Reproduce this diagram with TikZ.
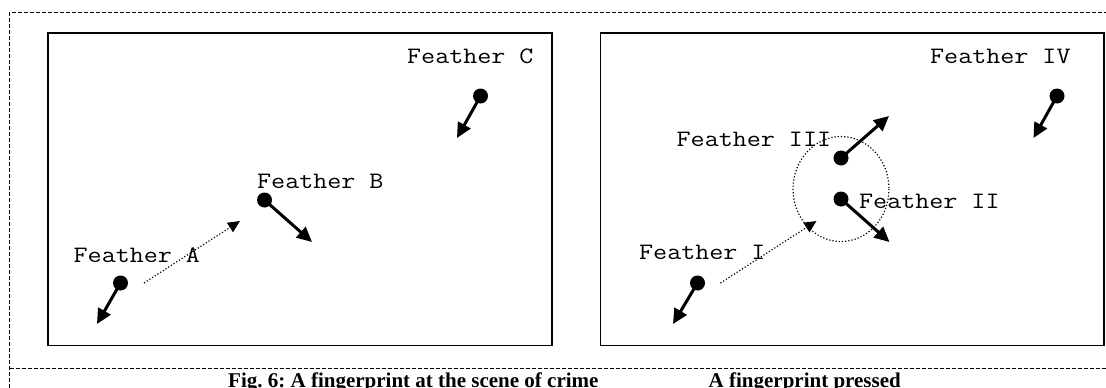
\documentclass[tikz,border=0pt]{standalone}
\usepackage{fontspec}
\setmainfont{Liberation Serif}
\newfontfamily\monofam[FakeStretch=1.16]{Latin Modern Mono}
\usetikzlibrary{arrows.meta}
\begin{document}
\begin{tikzpicture}[x=1pt,y=-1pt,
  frame/.style={line width=0.9pt,dash pattern=on 4pt off 2pt},
  panel/.style={draw,line width=1.8pt},
  dot/.style={circle,fill=black,inner sep=0pt,minimum size=15pt},
  spin/.style={line width=3pt,-{Triangle[length=15pt,width=14pt]}},
  trail/.style={line width=1.2pt,dotted,-{Triangle[length=12pt,width=11pt]}},
  lbl/.style={font=\monofam\fontsize{23.5}{25}\selectfont,anchor=base west,inner sep=0pt},
  figcap/.style={font=\bfseries\frenchspacing\fontsize{21}{23}\selectfont,anchor=base west,inner sep=0pt}]
\useasboundingbox (0,0) rectangle (1106,388);

% outer dashed frame and separator
\draw[frame] (9.6,388) -- (9.6,12) -- (1106,12);
\draw[frame] (9.6,368) -- (1106,368);

% panels
\draw[panel] (48,33) rectangle (552,345.5);
\draw[panel] (600.5,33) rectangle (1104,345.5);

% left panel: feathers A, B, C
\node[lbl] (lc) at (407,63) {Feather C};
\node[dot] (dc) at (480.5,96) {};
\coordinate (ec) at (457,138);
\draw[spin] (dc.center) -- (ec);

\node[lbl] (lb) at (257,188) {Feather B};
\node[dot] (db) at (264.5,200) {};
\coordinate (eb) at (312,242);
\draw[spin] (db.center) -- (eb);

\node[lbl] (la) at (73.5,262) {Feather A};
\node[dot] (da) at (120.5,283) {};
\coordinate (ea) at (97,324);
\draw[spin] (da.center) -- (ea);

\coordinate (ma0) at (144,283);
\coordinate (ma1) at (240,221);
\draw[trail] (ma0) -- (ma1);

% right panel: feathers I to IV
\draw[line width=1.2pt,dotted] (841,189) ellipse [x radius=48, y radius=52.5];

\node[lbl] (l4) at (930,63) {Feather IV};
\node[dot] (d4) at (1057,96) {};
\coordinate (e4) at (1033.5,138);
\draw[spin] (d4.center) -- (e4);

\node[lbl] (l3) at (676.5,146) {Feather III};
\node[dot] (d3) at (841,158) {};
\coordinate (e3) at (889,116);
\draw[spin] (d3.center) -- (e3);

\node[lbl] (l2) at (859,208) {Feather II};
\node[dot] (d2) at (841,199) {};
\coordinate (e2) at (889.5,242);
\draw[spin] (d2.center) -- (e2);

\node[lbl] (l1) at (639,259) {Feather I};
\node[dot] (d1) at (697.5,283) {};
\coordinate (e1) at (673,324);
\draw[spin] (d1.center) -- (e1);

\coordinate (m10) at (720.5,283);
\coordinate (m11) at (816.5,221);
\draw[trail] (m10) -- (m11);

% captions
\node[figcap] (c1) at (228,387) {Fig. 6: A fingerprint at the scene of crime};
\node[figcap] (c2) at (708.5,387) {A fingerprint pressed};
\end{tikzpicture}
\end{document}
